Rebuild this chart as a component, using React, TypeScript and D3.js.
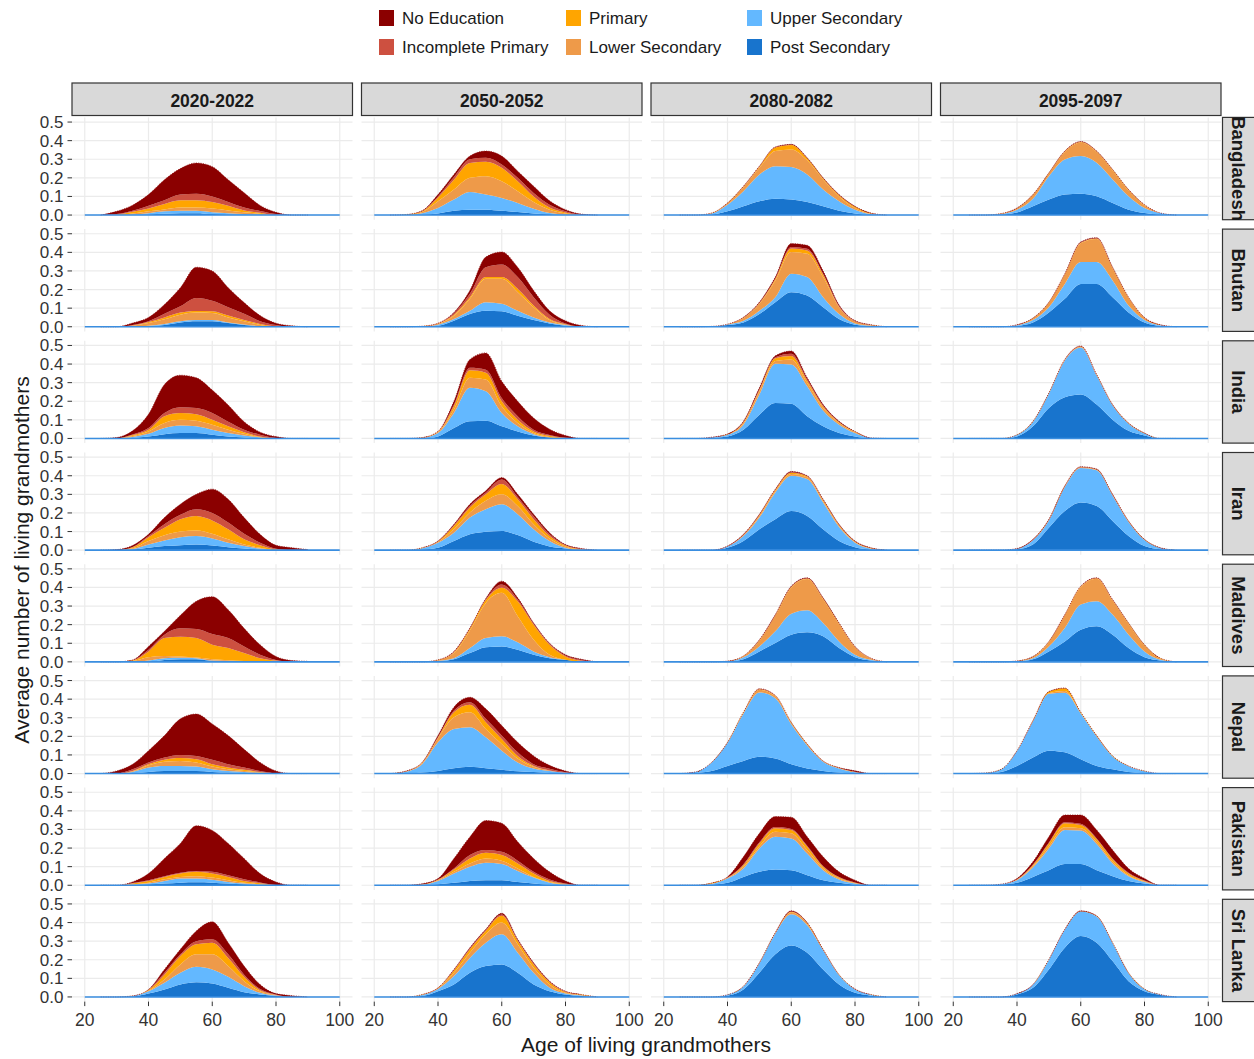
import React from "react";
import * as d3 from "d3";

// ages sampled every 5 years; values are in hundredths of a grandmother
const ages = [25, 30, 35, 40, 45, 50, 55, 60, 65, 70, 75, 80, 85, 90];
const periods = ["2020-2022", "2050-2052", "2080-2082", "2095-2097"];
const countries = ["Bangladesh", "Bhutan", "India", "Iran", "Maldives", "Nepal", "Pakistan", "Sri Lanka"];
// stacking order, bottom to top
const levels = ["Post Secondary", "Upper Secondary", "Lower Secondary", "Primary", "Incomplete Primary", "No Education"];
const levelColors = ["#1874CD", "#63B8FF", "#EE9A49", "#FFA500", "#CD5040", "#8B0000"];
const legendColumns = [
  ["No Education", "Incomplete Primary"],
  ["Primary", "Lower Secondary"],
  ["Upper Secondary", "Post Secondary"],
];
const yTicks = [0, 0.1, 0.2, 0.3, 0.4, 0.5];
const xTicks = [20, 40, 60, 80, 100];

// each period: [post, upper, lower, primary, incomplete, none]
const bangladesh = [
  [
    [0, 0, 0, 0.3, 0.7, 1, 1, 0.5, 0.3, 0, 0, 0, 0, 0],
    [0, 0, 0.3, 0.7, 1.3, 1.3, 1.3, 1, 0.7, 0.5, 0.2, 0, 0, 0],
    [0, 0, 0.5, 1, 1, 1.7, 1.7, 2, 1.5, 1, 0.5, 0, 0, 0],
    [0, 0.3, 1, 1.5, 3, 4, 4, 3.5, 2.5, 1, 0.5, 0, 0, 0],
    [0, 0.2, 0.5, 1.5, 2, 3, 3.5, 3, 2, 1.5, 1, 0.5, 0, 0],
    [0, 1.5, 3, 6, 11, 14, 16.5, 16, 12, 8, 3, 1, 0, 0],
  ],
  [
    [0, 0, 0.2, 0.9, 2.3, 2.9, 2.9, 2.3, 1.6, 0.9, 0.4, 0, 0, 0],
    [0, 0, 0.8, 2.9, 6, 9.5, 8.1, 6.9, 4.9, 2.5, 0.7, 0.2, 0, 0],
    [0, 0, 0.6, 3.6, 5.4, 7.6, 9.9, 9, 6.3, 3.6, 1.8, 0.7, 0, 0],
    [0, 0.3, 0.5, 2.1, 5.3, 8, 7.7, 7.2, 5.4, 3, 1.2, 0.5, 0, 0],
    [0, 0, 0.1, 0.5, 1.4, 2, 2.2, 1.8, 1.8, 1.9, 1.5, 0.6, 0.2, 0],
    [0, 0, 0.1, 1, 1.4, 1.7, 3.6, 4.5, 3.6, 3.6, 2.1, 0.9, 0.3, 0],
  ],
  [
    [0, 0, 0.3, 2, 4.7, 7.4, 8.8, 8.3, 7, 4.7, 2.3, 0.9, 0, 0],
    [0, 0, 0.6, 3.6, 8.1, 14.4, 17.5, 17.5, 14.8, 9, 5.1, 2, 0.5, 0],
    [0, 0, 0.1, 0.6, 2.2, 3.6, 8.1, 9.5, 7.6, 5.4, 2.6, 0.9, 0.3, 0],
    [0, 0, 0.1, 0.2, 0.2, 0.6, 1.9, 2.4, 1.1, 0.6, 0.7, 0.6, 0.2, 0],
    [0, 0, 0, 0, 0.1, 0.1, 0.1, 0.1, 0.1, 0.1, 0.1, 0.1, 0, 0],
    [0, 0, 0, 0.1, 0.2, 0.2, 0.2, 0.2, 0.2, 0.2, 0.2, 0.2, 0.1, 0],
  ],
  [
    [0, 0, 0.3, 1.4, 4.7, 8.3, 11, 11.5, 10.1, 6.5, 2.9, 1.1, 0.2, 0],
    [0, 0, 0.3, 1.5, 4.1, 12.6, 18.9, 20.2, 18, 12.6, 7.2, 2.7, 0.9, 0],
    [0, 0, 0.2, 0.7, 2, 1.5, 4, 7.3, 5.8, 4.9, 3, 1.3, 0, 0],
    [0, 0, 0, 0.1, 0.1, 0.2, 0.3, 0.3, 0.3, 0.3, 0.4, 0.3, 0, 0],
    [0, 0, 0, 0, 0, 0, 0.1, 0.1, 0.1, 0.1, 0.1, 0.1, 0, 0],
    [0, 0, 0, 0.1, 0.1, 0.1, 0.1, 0.1, 0.1, 0.1, 0.1, 0.1, 0, 0],
  ],
];

const bhutan = [
  [
    [0, 0, 0, 0.3, 1, 2.3, 3, 3, 2, 1, 0.3, 0, 0, 0],
    [0, 0, 0, 0.2, 0.5, 0.7, 0.6, 0.6, 0.3, 0.2, 0, 0, 0, 0],
    [0, 0, 0.5, 1.5, 2.5, 3.5, 4, 3.8, 2.7, 1.8, 0.7, 0, 0, 0],
    [0, 0, 0.2, 0.5, 1, 1.1, 0.9, 0.9, 1, 0.6, 0.5, 0.2, 0, 0],
    [0, 0, 0.3, 0.5, 2, 3.4, 7, 5.7, 4.5, 3.4, 1.5, 0.7, 0, 0],
    [0, 0, 1, 2, 5, 10, 16.5, 16, 10.5, 6, 3, 1, 0.5, 0],
  ],
  [
    [0, 0, 0, 0.5, 3.2, 6.8, 8.6, 8.3, 5.9, 3.6, 1.8, 0.5, 0, 0],
    [0, 0, 0.1, 0.6, 0.9, 1.8, 4.6, 4, 2.7, 1.4, 0.5, 0.4, 0, 0],
    [0, 0, 0.2, 0.5, 1.8, 6.4, 12.6, 13.5, 10, 5.5, 1.3, 0.2, 0, 0],
    [0, 0, 0, 0.2, 0.6, 0.9, 0.9, 0.9, 1.8, 0.9, 0.5, 0.3, 0, 0],
    [0, 0, 0, 0.1, 0.7, 1.8, 5.3, 6.8, 6.3, 4.5, 2.4, 0.4, 0.2, 0],
    [0, 0, 0, 0, 0.5, 1.8, 5.5, 6.7, 5.3, 3.6, 2.1, 1.4, 0.5, 0],
  ],
  [
    [0, 0, 0.2, 0.9, 2.3, 6.8, 13.2, 18.6, 16.8, 10.5, 4.1, 1.1, 0.3, 0],
    [0, 0, 0, 0.3, 0.9, 1.8, 2.7, 9.9, 9.9, 5.4, 2.7, 0.7, 0.2, 0],
    [0, 0, 0, 0.2, 1.5, 3.7, 9, 11.7, 12.6, 10.8, 3.7, 1.1, 0.3, 0],
    [0, 0, 0, 0, 0.2, 0.4, 0.8, 1.9, 1.7, 1.3, 0.3, 0.1, 0.1, 0],
    [0, 0, 0, 0, 0.1, 0.1, 0.2, 0.8, 1, 0.5, 0.3, 0.1, 0.1, 0],
    [0, 0, 0, 0, 0.1, 0.4, 0.8, 1.8, 1.8, 1.5, 0.6, 0.2, 0.1, 0],
  ],
  [
    [0, 0, 0, 0.5, 2.3, 7.7, 15, 23, 23, 15.9, 7.7, 2.3, 0.5, 0],
    [0, 0, 0, 0.3, 1.3, 2.8, 8, 11.8, 11.8, 9, 3.7, 1.3, 0.3, 0],
    [0, 0, 0, 0.2, 0.9, 2.4, 5, 10.1, 12.4, 6.6, 4.2, 1.2, 0.2, 0],
    [0, 0, 0, 0, 0.1, 0.1, 0.2, 0.3, 0.3, 0.2, 0.1, 0.1, 0, 0],
    [0, 0, 0, 0, 0, 0.1, 0.1, 0.1, 0.1, 0.1, 0.1, 0, 0, 0],
    [0, 0, 0, 0.1, 0.1, 0.1, 0.2, 0.3, 0.3, 0.2, 0.1, 0.1, 0.1, 0],
  ],
];

const india = [
  [
    [0, 0, 0.3, 1, 2.3, 2.9, 2.9, 2, 1, 0.5, 0, 0, 0, 0],
    [0, 0, 0.5, 1.5, 3.3, 4.1, 3.6, 2.7, 1.9, 1.1, 0.5, 0, 0, 0],
    [0, 0, 0.5, 1.3, 2.7, 3, 3, 2.7, 1.8, 0.9, 0.2, 0, 0, 0],
    [0, 0, 0.5, 0.9, 3.7, 3.7, 3.5, 2.6, 1.8, 0.9, 0.3, 0, 0, 0],
    [0, 0, 0.3, 0.9, 1.7, 3.1, 3.4, 3.7, 2.5, 1.3, 1, 0.3, 0, 0],
    [0, 0.5, 2, 7.4, 15.3, 17.2, 16.2, 12.3, 9, 4.3, 1.4, 0.7, 0, 0],
  ],
  [
    [0, 0, 0, 1.1, 5.6, 9.2, 9.5, 6.5, 3.8, 1.6, 0.5, 0, 0, 0],
    [0, 0, 0.3, 1.8, 8.1, 18, 15.9, 7.2, 2.7, 0.7, 0, 0, 0, 0],
    [0, 0, 0.2, 0.5, 1.8, 5.4, 6.3, 3.6, 1.8, 0.6, 0.3, 0, 0, 0],
    [0, 0, 0, 0.2, 1.8, 4, 3.6, 2.7, 1.7, 0.9, 0.6, 0.2, 0, 0],
    [0, 0, 0, 0.1, 0.9, 1.4, 1.7, 1.8, 1.9, 0.9, 0.5, 0.2, 0, 0],
    [0, 0, 0, 0.1, 1.8, 4.5, 9, 9, 8.1, 6.3, 3.1, 1.2, 0, 0],
  ],
  [
    [0, 0, 0.3, 1.1, 4.7, 12.8, 19.1, 18.6, 11.9, 6.5, 2.9, 1.1, 0, 0],
    [0, 0, 0.2, 0.9, 2.7, 10.8, 21.1, 21.2, 16.2, 8.5, 4.5, 1.8, 0.3, 0],
    [0, 0, 0, 0.1, 0.9, 1.8, 1.4, 2.7, 1.8, 1.4, 0.9, 0.5, 0, 0],
    [0, 0, 0, 0.1, 0.4, 0.6, 1.5, 1.8, 1.1, 0.8, 0.4, 0.2, 0, 0],
    [0, 0, 0, 0, 0.2, 0.4, 0.6, 1.2, 0.8, 0.5, 0.2, 0.1, 0, 0],
    [0, 0, 0.2, 0.2, 0.3, 0.8, 0.7, 1.5, 0.8, 0.5, 0.3, 0.1, 0, 0],
  ],
  [
    [0, 0, 0, 1.1, 6.5, 16.4, 22.2, 23.6, 18.2, 10.1, 4.1, 1.6, 0, 0],
    [0, 0, 0, 0.8, 2.3, 7.6, 19.7, 25.3, 15.6, 7.6, 3.8, 1, 0, 0],
    [0, 0, 0, 0, 0.2, 0.2, 0.3, 0.4, 0.3, 0.2, 0.2, 0.1, 0, 0],
    [0, 0, 0, 0.1, 0.1, 0.1, 0.1, 0.2, 0.1, 0.1, 0.1, 0.1, 0, 0],
    [0, 0, 0, 0, 0, 0, 0.1, 0.1, 0.1, 0.1, 0, 0, 0, 0],
    [0, 0, 0, 0, 0.1, 0.2, 0.1, 0.1, 0.1, 0.1, 0.1, 0.1, 0, 0],
  ],
];

const iran = [
  [
    [0, 0, 0.3, 1.3, 2.2, 2.7, 3, 2.5, 1.6, 0.9, 0.3, 0, 0, 0],
    [0, 0, 0.3, 1.7, 3, 4.3, 4.6, 3.8, 2.4, 1.3, 0.6, 0, 0, 0],
    [0, 0, 0.4, 1.9, 2.8, 3, 3, 2.5, 1.8, 0.8, 0.4, 0, 0, 0],
    [0, 0, 0.5, 2.1, 4, 6.6, 7.8, 7.2, 5.4, 2.8, 1.4, 0.5, 0, 0],
    [0, 0, 0.2, 0.6, 1.9, 2.4, 3.6, 4, 3.6, 3, 1.3, 0.3, 0, 0],
    [0, 0.3, 0.8, 0.9, 3.6, 5.7, 8, 12.8, 12.6, 8.7, 4.5, 1.8, 1.3, 0.3],
  ],
  [
    [0, 0, 0.3, 1.3, 4.9, 8.5, 9.9, 10.3, 8.1, 4.5, 2, 0.9, 0, 0],
    [0, 0, 0.7, 2.7, 4.5, 9, 12.1, 14.4, 11.2, 6.7, 2.9, 0.4, 0, 0],
    [0, 0, 0.2, 0.5, 1.8, 2.7, 4.5, 5.3, 4.5, 2.7, 1.4, 0.7, 0.3, 0],
    [0, 0, 0.1, 0.2, 1.8, 2.7, 3.5, 5.5, 3.6, 2.7, 1.3, 0.5, 0.2, 0],
    [0, 0, 0, 0.1, 0.4, 0.9, 1, 2.5, 1.2, 1.6, 1, 0.3, 0.2, 0],
    [0, 0, 0, 0.1, 0.5, 0.9, 0.9, 1, 1.4, 1.1, 0.8, 0.2, 0.2, 0],
  ],
  [
    [0, 0, 0, 1.3, 4.9, 11.2, 16.6, 21, 18.4, 11.2, 4.9, 1.6, 0.3, 0],
    [0, 0, 0, 0.7, 2.7, 6.3, 14.4, 19, 19.8, 14.4, 7.5, 2.4, 0.5, 0],
    [0, 0, 0, 0.1, 0.4, 0.8, 0.8, 1, 1, 0.8, 0.7, 0.4, 0.2, 0],
    [0, 0, 0, 0, 0.2, 0.5, 0.5, 0.6, 0.4, 0.5, 0.4, 0.2, 0.1, 0],
    [0, 0, 0, 0, 0.1, 0.2, 0.2, 0.3, 0.2, 0.2, 0.2, 0.1, 0.1, 0],
    [0, 0, 0, 0.1, 0.2, 0.3, 0.3, 0.4, 0.2, 0.3, 0.2, 0.2, 0.1, 0],
  ],
  [
    [0, 0, 0, 0.5, 3.1, 12.1, 21, 25.6, 23.8, 15.7, 7.6, 2.2, 0.5, 0],
    [0, 0, 0, 0.3, 2.2, 3.9, 12.9, 18.6, 19.1, 13.6, 7.5, 3.2, 0.6, 0],
    [0, 0, 0, 0, 0.1, 0.2, 0.3, 0.3, 0.3, 0.3, 0.3, 0.2, 0.1, 0],
    [0, 0, 0, 0, 0.1, 0.1, 0.1, 0.1, 0.1, 0.1, 0.1, 0.1, 0, 0],
    [0, 0, 0, 0, 0.1, 0.1, 0.1, 0.1, 0.1, 0.1, 0.1, 0, 0, 0],
    [0, 0, 0, 0.1, 0.2, 0.2, 0.2, 0.2, 0.2, 0.2, 0.1, 0.1, 0.1, 0],
  ],
];

const maldives = [
  [
    [0, 0, 0, 0, 1, 1.4, 1.4, 0.5, 0.3, 0, 0, 0, 0, 0],
    [0, 0, 0, 0.7, 1, 0.8, 0.6, 0.2, 0.2, 0.2, 0, 0, 0, 0],
    [0, 0, 0.5, 1.8, 1.2, 0.7, 0.3, 0.7, 0.4, 0.3, 0.2, 0, 0, 0],
    [0, 0, 0.3, 3.1, 9.6, 10.6, 10.5, 7.8, 6.5, 4.2, 1.8, 0.7, 0, 0],
    [0, 0, 0.1, 0.9, 1.8, 4.5, 4.9, 5.8, 5.4, 3.6, 1.8, 0.3, 0, 0],
    [0, 0, 0.1, 1.8, 1.8, 7, 14.9, 20, 15.2, 9.7, 5.4, 1.9, 0.7, 0.3],
  ],
  [
    [0, 0, 0, 0.3, 1.4, 4.7, 7.9, 8.3, 6.5, 3.8, 2, 1.1, 0, 0],
    [0, 0, 0, 0.3, 0.6, 2.7, 4.9, 5.4, 4, 1.8, 0.5, 0, 0, 0],
    [0, 0, 0, 0.5, 2.7, 9.5, 18.9, 23.4, 14, 6.3, 1.3, 0, 0, 0],
    [0, 0, 0, 0, 0.5, 0.8, 1.5, 2.7, 8.1, 8.1, 5.4, 1.8, 0.6, 0],
    [0, 0, 0, 0, 0.2, 0.2, 0.4, 1.8, 0.9, 0.5, 0.5, 0.5, 0.4, 0],
    [0, 0, 0, 0, 0.2, 0.3, 0.5, 1.8, 0.9, 0.4, 0.3, 0.4, 0.4, 0],
  ],
  [
    [0, 0, 0, 0.1, 1.4, 5.6, 10.1, 14.6, 15.9, 13.7, 7.4, 2.5, 0.7, 0],
    [0, 0, 0, 0.2, 1.1, 2.7, 6.3, 11.3, 11.8, 7.2, 3.6, 1.3, 0.4, 0],
    [0, 0, 0, 0.1, 0.5, 3.1, 8.5, 14, 16.8, 12.8, 9.3, 4, 0.6, 0],
    [0, 0, 0, 0, 0.1, 0.2, 0.2, 0.3, 0.3, 0.3, 0.3, 0.2, 0.1, 0],
    [0, 0, 0, 0, 0, 0.1, 0.1, 0.2, 0.1, 0.1, 0.1, 0.1, 0.1, 0],
    [0, 0, 0, 0, 0.1, 0.2, 0.2, 0.3, 0.3, 0.3, 0.2, 0.2, 0.1, 0],
  ],
  [
    [0, 0, 0, 0.2, 1.4, 5.6, 11, 17.3, 19.1, 14.6, 7.4, 2.5, 0.7, 0],
    [0, 0, 0, 0.2, 0.6, 2.7, 7.2, 13.5, 13.5, 10.8, 7.2, 3.1, 0.4, 0],
    [0, 0, 0, 0.1, 0.6, 2.3, 6.8, 9.5, 12.1, 7.6, 5.8, 3.2, 0.6, 0],
    [0, 0, 0, 0, 0.1, 0.2, 0.2, 0.2, 0.3, 0.3, 0.3, 0.2, 0.2, 0],
    [0, 0, 0, 0, 0, 0.1, 0.1, 0.1, 0.1, 0.1, 0.1, 0.1, 0, 0],
    [0, 0, 0, 0, 0.2, 0.1, 0.1, 0.1, 0.1, 0.1, 0.1, 0.1, 0.1, 0],
  ],
];

const nepal = [
  [
    [0, 0, 0.2, 0.9, 1.4, 1.4, 1.4, 0.9, 0.5, 0.3, 0, 0, 0, 0],
    [0, 0, 0.7, 2.3, 2.7, 2.7, 2.4, 1.4, 0.9, 0.6, 0.3, 0, 0, 0],
    [0, 0, 0.3, 1.3, 2.2, 2.7, 2.2, 1.5, 0.9, 0.5, 0.3, 0, 0, 0],
    [0, 0, 0.2, 0.5, 1.1, 1.5, 1.7, 1.2, 0.9, 0.6, 0.3, 0, 0, 0],
    [0, 0, 0.9, 1, 1.2, 1.7, 1.8, 2.4, 1.8, 1.2, 0.5, 0.2, 0, 0],
    [0, 1.4, 2.7, 6.3, 11.8, 19.4, 22.5, 19.3, 15.4, 9.8, 4.6, 1.2, 0, 0],
  ],
  [
    [0, 0, 0.5, 1.4, 2.9, 3.6, 2.9, 2, 1.3, 0.9, 0.3, 0, 0, 0],
    [0, 1, 4.5, 15.4, 21.1, 21.3, 16.6, 10.3, 4.7, 1.8, 1.1, 0.4, 0, 0],
    [0, 0.2, 0.5, 2.2, 6.3, 8.1, 4.5, 3.6, 2.1, 0.9, 0.3, 0, 0, 0],
    [0, 0.1, 0.3, 0.4, 2.7, 4, 3.6, 2.7, 1.4, 0.5, 0, 0, 0, 0],
    [0, 0, 0.2, 0.3, 0.9, 1.4, 1.8, 1.8, 1.9, 0.9, 0.9, 0.3, 0, 0],
    [0, 0.1, 0, 0.7, 1.8, 2.6, 5.4, 5.4, 5.4, 4.5, 1.8, 0.7, 0, 0],
  ],
  [
    [0, 0.3, 1.4, 4.1, 6.8, 9, 8.1, 5, 2.7, 1.4, 0.5, 0, 0, 0],
    [0, 0.5, 4.4, 12.3, 25.4, 34.6, 32.4, 21.5, 12.4, 4.9, 2.2, 0.7, 0, 0],
    [0, 0, 0.1, 0.2, 0.5, 1.4, 1, 0.6, 0.4, 0.2, 0.2, 0.1, 0, 0],
    [0, 0, 0.1, 0.1, 0.2, 0.3, 0.3, 0.3, 0.2, 0.1, 0.1, 0.1, 0, 0],
    [0, 0, 0, 0, 0, 0.1, 0.1, 0.1, 0.1, 0.1, 0.1, 0.1, 0, 0],
    [0, 0.1, 0, 0.1, 0.1, 0.2, 0.1, 0.1, 0.1, 0.1, 0.1, 0.5, 0, 0],
  ],
  [
    [0, 0, 0.9, 4.1, 8.6, 12.3, 11.4, 7.7, 4.1, 2.3, 0.9, 0.2, 0, 0],
    [0, 0.3, 1.3, 8, 19.4, 30.6, 32, 24.6, 15.8, 6.8, 3, 1, 0, 0],
    [0, 0, 0, 0.1, 0.2, 0.3, 1, 0.3, 0.2, 0.1, 0.1, 0, 0, 0],
    [0, 0, 0.1, 0.1, 0.2, 0.8, 1.4, 0.3, 0.2, 0.2, 0.1, 0.2, 0, 0],
    [0, 0, 0, 0, 0, 0, 0.1, 0, 0, 0, 0, 0, 0, 0],
    [0, 0, 0, 0, 0.1, 0.1, 0.1, 0.1, 0.1, 0.1, 0, 0, 0, 0],
  ],
];

const pakistan = [
  [
    [0, 0, 0.2, 0.5, 0.9, 1.4, 1.6, 1.4, 0.9, 0.5, 0.2, 0, 0, 0],
    [0, 0, 0.2, 0.4, 1.4, 2.2, 2, 1.6, 0.9, 0.4, 0.2, 0, 0, 0],
    [0, 0, 0.2, 0.5, 0.9, 0.9, 1.3, 1.1, 0.9, 0.4, 0.2, 0, 0, 0],
    [0, 0, 0.4, 0.9, 1.3, 1.8, 2.3, 2.2, 1.8, 1, 0.5, 0, 0, 0],
    [0, 0, 0.2, 0.4, 0.4, 0.4, 0.5, 0.9, 0.9, 0.9, 0.4, 0.2, 0, 0],
    [0, 0, 0.6, 3.6, 9.5, 15.8, 24.3, 22.3, 17.1, 11.2, 4.8, 1.6, 0, 0],
  ],
  [
    [0, 0, 0, 0.5, 1.3, 2.3, 2.7, 2.7, 1.8, 0.9, 0.3, 0, 0, 0],
    [0, 0, 0.3, 1.8, 5, 7.6, 9.4, 8.7, 5.9, 3.2, 1.1, 0.3, 0, 0],
    [0, 0, 0.1, 0.4, 0.9, 1.8, 2.3, 1.8, 1.3, 0.4, 0.4, 0.2, 0, 0],
    [0, 0, 0.1, 0.2, 1.3, 2.7, 3.1, 3, 2.7, 1.8, 0.5, 0.2, 0, 0],
    [0, 0, 0, 0.2, 0.5, 1.8, 1.4, 1.8, 1.5, 0.9, 0.8, 0.2, 0, 0],
    [0, 0, 0.3, 0.5, 5.4, 9.8, 15.9, 15.3, 10.2, 7.2, 4.1, 1.4, 0, 0],
  ],
  [
    [0, 0, 0.3, 1.3, 4.5, 7.2, 8.5, 8.1, 5.4, 2.7, 1.3, 0.3, 0, 0],
    [0, 0, 0.4, 2.3, 4.5, 12.6, 17.6, 17.1, 11.7, 5.4, 1.8, 0.6, 0, 0],
    [0, 0, 0.2, 0.3, 0.9, 1.2, 2.7, 2.7, 1.8, 0.9, 0.5, 0.2, 0, 0],
    [0, 0, 0.3, 0.1, 0.9, 1.5, 1.8, 1.8, 1.8, 0.9, 0.5, 0.2, 0, 0],
    [0, 0, 0, 0.1, 0.5, 0.6, 0.7, 0.6, 0.6, 0.5, 0.3, 0.2, 0, 0],
    [0, 0, 0, 0.4, 4, 4.8, 5.6, 6.3, 4.8, 4.9, 2.8, 1.2, 0, 0],
  ],
  [
    [0, 0, 0.3, 1.3, 4.5, 8.1, 11.4, 11.4, 8.1, 4.9, 2.3, 0.9, 0, 0],
    [0, 0, 0.3, 1.4, 5, 11.7, 18.3, 18, 14.1, 6.8, 2.6, 0.9, 0, 0],
    [0, 0, 0, 0.2, 0.7, 1.2, 1.5, 1.2, 1.2, 0.9, 0.5, 0.2, 0, 0],
    [0, 0, 0, 0.2, 0.6, 1.5, 2.1, 1.8, 1.3, 1.3, 0.9, 0.3, 0, 0],
    [0, 0, 0, 0.1, 0.3, 0.5, 0.6, 0.6, 0.5, 0.5, 0.4, 0.2, 0, 0],
    [0, 0, 0, 0.4, 1.5, 3.1, 3.9, 4.8, 4.5, 4.5, 2.3, 1.1, 0, 0],
  ],
];

const sriLanka = [
  [
    [0, 0, 0.2, 1.8, 4, 6.7, 7.9, 7.2, 4.9, 2.5, 1.3, 0.5, 0, 0],
    [0, 0, 0.3, 1.2, 3.6, 6.3, 8.3, 7.6, 5.9, 3.3, 0.9, 0.3, 0, 0],
    [0, 0, 0.1, 0.4, 1.8, 4.5, 6.7, 8.1, 5.8, 2.7, 0.8, 0.3, 0, 0],
    [0, 0, 0, 0.4, 2.6, 4.5, 5.4, 6.3, 4.4, 2.3, 0.6, 0, 0, 0],
    [0, 0, 0, 0.1, 1, 0.9, 1.7, 1.8, 1.9, 1.2, 0.7, 0.2, 0, 0],
    [0, 0, 0, 0.1, 1.8, 2.7, 5.5, 9.4, 6.3, 4.6, 2.4, 0.5, 0.7, 0],
  ],
  [
    [0, 0, 0.5, 3.1, 6.7, 13, 16.6, 17.5, 13, 6.7, 3.1, 1.3, 0.5, 0],
    [0, 0, 0.5, 1.2, 4.5, 8, 12.6, 16.2, 10.8, 6.3, 1.8, 0.5, 0.3, 0],
    [0, 0, 0.2, 0.4, 1.8, 2.8, 4.5, 6.3, 4.5, 2.7, 1.8, 0.4, 0.3, 0],
    [0, 0, 0.1, 0.1, 1.2, 1.8, 1.9, 3.6, 1.8, 1.8, 1.2, 0.5, 0.2, 0],
    [0, 0, 0, 0.1, 0.3, 0.5, 0.4, 0.7, 0.5, 0.5, 0.3, 0.3, 0, 0],
    [0, 0, 0, 0, 0.3, 0.4, 0.4, 0.7, 0.4, 0.4, 0.3, 0.1, 0, 0],
  ],
  [
    [0, 0, 0, 0.7, 4, 13, 22.9, 27.7, 23.8, 14.8, 6.7, 2.2, 0.7, 0],
    [0, 0, 0, 0.5, 1.6, 5, 11.2, 16.8, 14.8, 10.3, 4.9, 1.8, 0.5, 0],
    [0, 0, 0, 0, 0.1, 0.2, 0.3, 1, 0.8, 0.3, 0.2, 0.1, 0, 0],
    [0, 0, 0, 0, 0.1, 0.1, 0.1, 0.3, 0.3, 0.1, 0.1, 0.1, 0.1, 0],
    [0, 0, 0, 0, 0, 0, 0, 0.2, 0.1, 0, 0, 0, 0, 0],
    [0, 0, 0, 0, 0, 0.1, 0.1, 0.3, 0.2, 0.1, 0.1, 0.1, 0, 0],
  ],
  [
    [0, 0, 0, 1.3, 4.9, 14.8, 26.5, 32.8, 29.2, 19.3, 8.5, 3.1, 1.1, 0],
    [0, 0, 0, 0.4, 1.6, 5.1, 9.6, 13.1, 14.1, 9.6, 4.3, 1, 0.2, 0],
    [0, 0, 0, 0, 0.1, 0.1, 0.1, 0.1, 0.1, 0.1, 0.1, 0.1, 0, 0],
    [0, 0, 0, 0, 0, 0.1, 0.1, 0.1, 0.1, 0.1, 0.1, 0.1, 0, 0],
    [0, 0, 0, 0, 0, 0, 0, 0, 0, 0, 0, 0, 0, 0],
    [0, 0, 0, 0.1, 0.1, 0.1, 0.1, 0.2, 0.1, 0.1, 0, 0, 0, 0],
  ],
];

const countryData = [bangladesh, bhutan, india, iran, maldives, nepal, pakistan, sriLanka];

// layout
const W = 1254;
const H = 1059;
const panelLeft0 = 72;
const panelStepX = 289.5;
const panelW = 280.5;
const panelTop0 = 117.4;
const panelStepY = 111.7;
const panelH = 102.3;
const font = "'Liberation Sans', Arial, Helvetica, sans-serif";

const Panel = ({ row, col }: { row: number; col: number }) => {
  const left = panelLeft0 + col * panelStepX;
  const top = panelTop0 + row * panelStepY;
  const x = d3.scaleLinear().domain([16, 104]).range([left, left + panelW]);
  const y = d3.scaleLinear().domain([-0.025, 0.525]).range([top + panelH, top]);
  const series = countryData[row][col];

  const table = ages.map((age, i) => {
    const d: Record<string, number> = { age };
    levels.forEach((lv, k) => (d[lv] = series[k][i] / 100));
    return d;
  });
  const stacked = d3.stack<Record<string, number>>().keys(levels)(table);

  const area = d3
    .area<d3.SeriesPoint<Record<string, number>>>()
    .curve(d3.curveMonotoneX)
    .x((d) => x(d.data.age))
    .y0((d) => y(d[0]))
    .y1((d) => y(d[1]));

  const topLine = d3
    .line<d3.SeriesPoint<Record<string, number>>>()
    .curve(d3.curveMonotoneX)
    .x((d) => x(d.data.age))
    .y((d) => y(d[1]));

  return (
    <g>
      <rect x={left} y={top} width={panelW} height={panelH} fill="#ffffff" />
      {yTicks.map((t) => (
        <line key={"gy" + t} x1={left} x2={left + panelW} y1={y(t)} y2={y(t)} stroke="#ebebeb" strokeWidth={1.2} />
      ))}
      {xTicks.map((t) => (
        <line key={"gx" + t} x1={x(t)} x2={x(t)} y1={top} y2={top + panelH} stroke="#ebebeb" strokeWidth={1.2} />
      ))}
      {stacked.map((s, k) => (
        <path key={levels[k]} d={area(s) || ""} fill={levelColors[k]} />
      ))}
      <path d={topLine(stacked[stacked.length - 1]) || ""} fill="none" stroke="#8B0000" strokeWidth={0.9} strokeOpacity={0.75} strokeDasharray="1.2 1.2" />
      <line x1={x(20)} x2={x(100)} y1={y(0)} y2={y(0)} stroke="#3a8ee0" strokeWidth={1.6} />
    </g>
  );
};

const App = () => {
  const bottom = panelTop0 + 7 * panelStepY + panelH;
  return (
    <svg width={W} height={H} style={{ position: "absolute", left: 0, top: 0, fontFamily: font }}>
      <rect width={W} height={H} fill="#ffffff" />

      {/* legend */}
      {legendColumns.map((colItems, ci) =>
        colItems.map((name, ri) => {
          const lx = [379, 566, 747][ci];
          const cy = 18 + ri * 29;
          return (
            <g key={name}>
              <rect x={lx} y={cy - 8} width={15} height={16} fill={levelColors[levels.indexOf(name)]} />
              <text x={lx + 23} y={cy + 6} fontSize={17} fill="#1a1a1a">
                {name}
              </text>
            </g>
          );
        })
      )}

      {/* column strips */}
      {periods.map((p, c) => {
        const left = panelLeft0 + c * panelStepX;
        return (
          <g key={p}>
            <rect x={left} y={83} width={panelW} height={32.5} fill="#d9d9d9" stroke="#333333" strokeWidth={1.2} />
            <text x={left + panelW / 2} y={106.5} textAnchor="middle" fontSize={17.5} fontWeight="bold" fill="#1a1a1a">
              {p}
            </text>
          </g>
        );
      })}

      {/* row strips */}
      {countries.map((cn, r) => {
        const top = panelTop0 + r * panelStepY;
        const sx = panelLeft0 + 3 * panelStepX + panelW + 1.5;
        return (
          <g key={cn}>
            <rect x={sx} y={top} width={34} height={panelH} fill="#d9d9d9" stroke="#333333" strokeWidth={1.2} />
            <text
              transform={`translate(${sx + 9.5},${top + panelH / 2}) rotate(90)`}
              textAnchor="middle"
              fontSize={18.5}
              fontWeight="bold"
              fill="#1a1a1a"
            >
              {cn}
            </text>
          </g>
        );
      })}

      {/* panels */}
      {countries.map((cn, r) => periods.map((p, c) => <Panel key={cn + p} row={r} col={c} />))}

      {/* y axes */}
      {countries.map((cn, r) => {
        const top = panelTop0 + r * panelStepY;
        const y = d3.scaleLinear().domain([-0.025, 0.525]).range([top + panelH, top]);
        return (
          <g key={"ya" + cn}>
            {yTicks.map((t) => (
              <g key={t}>
                <line x1={panelLeft0 - 4.5} x2={panelLeft0} y1={y(t)} y2={y(t)} stroke="#333333" strokeWidth={1} />
                <text x={panelLeft0 - 8.5} y={y(t) + 6} textAnchor="end" fontSize={17} fill="#333333">
                  {d3.format(".1f")(t)}
                </text>
              </g>
            ))}
          </g>
        );
      })}

      {/* x axes */}
      {periods.map((p, c) => {
        const left = panelLeft0 + c * panelStepX;
        const x = d3.scaleLinear().domain([16, 104]).range([left, left + panelW]);
        return (
          <g key={"xa" + p}>
            {xTicks.map((t) => (
              <g key={t}>
                <line x1={x(t)} x2={x(t)} y1={bottom} y2={bottom + 4.5} stroke="#333333" strokeWidth={1} />
                <text x={x(t)} y={bottom + 24} textAnchor="middle" fontSize={17.5} fill="#333333">
                  {t}
                </text>
              </g>
            ))}
          </g>
        );
      })}

      <text x={646} y={1052} textAnchor="middle" fontSize={21} fill="#1a1a1a">
        Age of living grandmothers
      </text>
      <text transform="translate(29,560) rotate(-90)" textAnchor="middle" fontSize={21} fill="#1a1a1a">
        Average number of living grandmothers
      </text>
    </svg>
  );
};

export default App;
